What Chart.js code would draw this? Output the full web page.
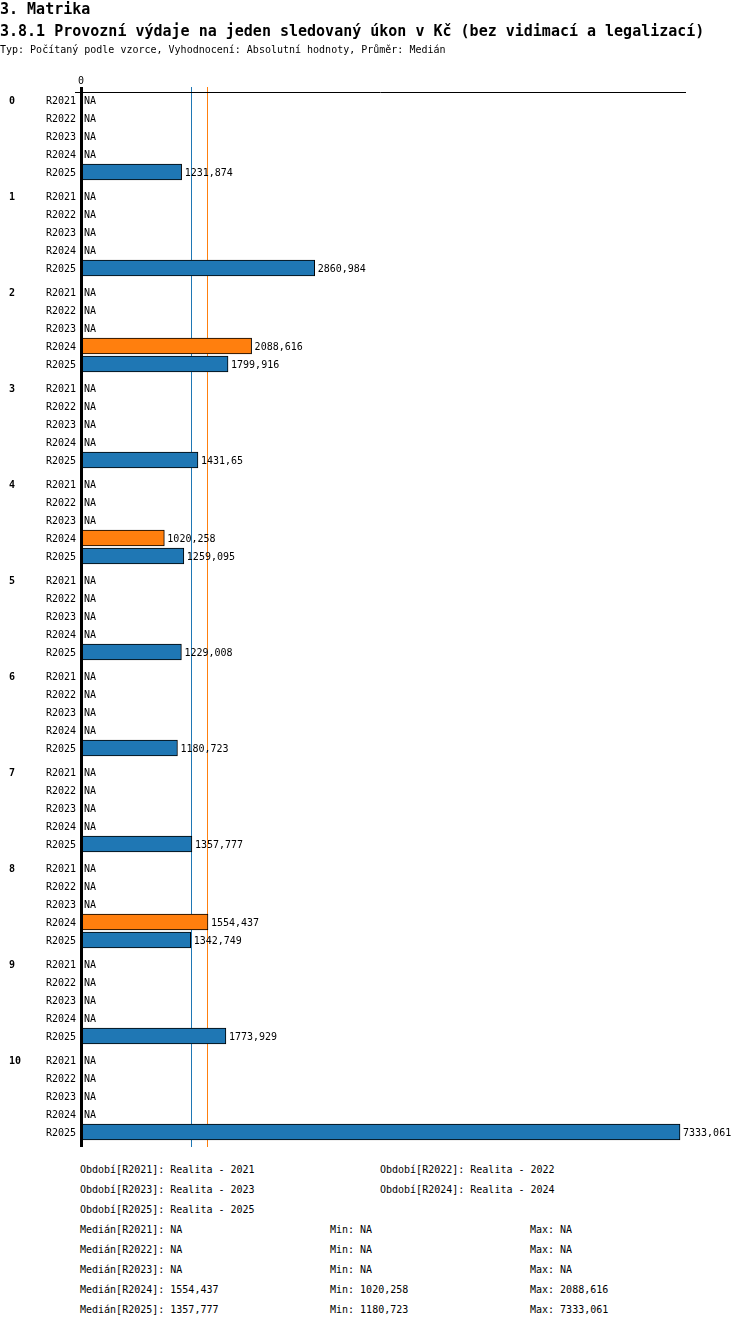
<!DOCTYPE html>
<html>
<head>
<meta charset="utf-8">
<script src="https://cdn.jsdelivr.net/npm/chart.js@4/dist/chart.umd.min.js"></script>
<style>
  html, body { margin:0; padding:0; background:#fff; width:750px; height:1328px; overflow:hidden; }
  body { position:relative; font-family:"DejaVu Sans Mono", monospace; color:#000; }
  .h1 { position:absolute; left:0; top:1px; font-size:15px; font-weight:bold; line-height:16px; }
  .h2 { position:absolute; left:0; top:23px; font-size:15px; font-weight:bold; line-height:16px; }
  .sub { position:absolute; left:0; top:44px; font-size:10px; line-height:12px; }
  #wrap { position:absolute; left:0; top:0; width:750px; height:1160px; }
  .t { position:absolute; font-size:10px; line-height:12px; white-space:pre; }
</style>
</head>
<body>
<div id="wrap"><canvas id="c"></canvas></div>
<div class="h1">3. Matrika</div>
<div class="h2">3.8.1 Provozní výdaje na jeden sledovaný úkon v Kč (bez vidimací a legalizací)</div>
<div class="sub">Typ: Počítaný podle vzorce, Vyhodnocení: Absolutní hodnoty, Průměr: Medián</div>
<div id="foot"></div>
<script>
const groups = ['0','1','2','3','4','5','6','7','8','9','10'];
const periods = ['R2021','R2022','R2023','R2024','R2025'];
const periodNames = ['Realita - 2021','Realita - 2022','Realita - 2023','Realita - 2024','Realita - 2025'];
const r2021 = [null,null,null,null,null,null,null,null,null,null,null];
const r2022 = [null,null,null,null,null,null,null,null,null,null,null];
const r2023 = [null,null,null,null,null,null,null,null,null,null,null];
const r2024 = [null,null,2088.616,null,1020.258,null,null,null,1554.437,null,null];
const r2025 = [1231.874,2860.984,1799.916,1431.65,1259.095,1229.008,1180.723,1357.777,1342.749,1773.929,7333.061];
const seriesColors = ['#2ca02c','#d62728','#9467bd','#ff7f0e','#1f77b4'];

const series = [r2021, r2022, r2023, r2024, r2025];
const ROWS_PER_GROUP = 16/3; // 5 rows + gap

function fmt(v){ return v === null ? 'NA' : String(v).replace('.', ','); }
function stats(arr){
  const v = arr.filter(x => x !== null).sort((a,b)=>a-b);
  if (!v.length) return {med:null,min:null,max:null};
  const n = v.length;
  const med = n % 2 ? v[(n-1)/2] : (v[n/2-1]+v[n/2])/2;
  return {med, min:v[0], max:v[n-1]};
}
const st = series.map(stats);
const allVals = series.flat().filter(x => x !== null);
const xMax = Math.max(...allVals) * 1.01;

function pos(g,p){ return g*ROWS_PER_GROUP + p; }

const datasets = series.map((arr, p) => ({
  label: periods[p],
  data: arr.map((v,g) => ({x: v, y: pos(g,p)})).filter(d => d.x !== null),
  backgroundColor: seriesColors[p],
  borderColor: '#000',
  borderWidth: 1,
  borderSkipped: false,
  barThickness: 16,
  grouped: false
}));

const lastPos = pos(groups.length-1, periods.length-1);

const deco = {
  id:'deco',
  beforeDatasetsDraw(chart){
    const {ctx, chartArea:a, scales:{x}} = chart;
    ctx.save();
    st.forEach((s,p) => {
      if (s.med === null) return;
      const px = Math.round(x.getPixelForValue(s.med)) - 0.5;
      ctx.strokeStyle = seriesColors[p];
      ctx.lineWidth = 1;
      ctx.beginPath(); ctx.moveTo(px, a.top - 5); ctx.lineTo(px, a.bottom); ctx.stroke();
    });
    ctx.strokeStyle = '#000'; ctx.lineWidth = 1;
    ctx.beginPath(); ctx.moveTo(a.left - 6, a.top + 0.5); ctx.lineTo(a.right, a.top + 0.5); ctx.stroke();
    ctx.restore();
  },
  afterDatasetsDraw(chart){
    const {ctx, chartArea:a, scales:{x,y}} = chart;
    ctx.save();
    const x0 = x.getPixelForValue(0);
    ctx.fillStyle = '#000';
    ctx.fillRect(Math.round(x0) - 1, a.top - 5, 3, a.bottom - a.top + 5);
    ctx.font = '10px "DejaVu Sans Mono", monospace';
    ctx.textBaseline = 'middle';
    ctx.textAlign = 'center';
    ctx.fillText('0', x0, a.top - 11);
    groups.forEach((gName, g) => {
      const gy = y.getPixelForValue(pos(g,0)) + 1;
      ctx.font = 'bold 10px "DejaVu Sans Mono", monospace';
      ctx.textAlign = 'left';
      ctx.fillText(gName, 9, gy);
      ctx.font = '10px "DejaVu Sans Mono", monospace';
      periods.forEach((pName, p) => {
        const py = y.getPixelForValue(pos(g,p)) + 1;
        ctx.textAlign = 'right';
        ctx.fillText(pName, x0 - 5, py);
        ctx.textAlign = 'left';
        const v = series[p][g];
        const lx = v === null ? x0 + 3 : x.getPixelForValue(v) + 3;
        ctx.fillText(fmt(v), lx, py);
      });
    });
    ctx.restore();
  }
};

new Chart(document.getElementById('c'), {
  type:'bar',
  data:{ datasets },
  options:{
    indexAxis:'y',
    responsive:true,
    maintainAspectRatio:false,
    animation:false,
    layout:{ padding:{ left:81, right:64, top:92, bottom:13 } },
    scales:{
      x:{ type:'linear', min:0, max:xMax, display:false, offset:false, grace:0 },
      y:{ type:'linear', reverse:true, min:-8/18, max:lastPos + 15/18, display:false, offset:false, grace:0 }
    },
    plugins:{ legend:{display:false}, tooltip:{enabled:false} }
  },
  plugins:[deco]
});

const foot = document.getElementById('foot');
function addText(txt, left, top){
  const d = document.createElement('div');
  d.className = 't'; d.textContent = txt;
  d.style.left = left + 'px'; d.style.top = top + 'px';
  foot.appendChild(d);
}
periods.forEach((p,i) => {
  const col = i % 2, row = Math.floor(i/2);
  addText('Období[' + p + ']: ' + periodNames[i], col ? 380 : 80, 1164 + row*20);
});
periods.forEach((p,i) => {
  const top = 1224 + i*20;
  addText('Medián[' + p + ']: ' + fmt(st[i].med), 80, top);
  addText('Min: ' + fmt(st[i].min), 330, top);
  addText('Max: ' + fmt(st[i].max), 530, top);
});
</script>
</body>
</html>
